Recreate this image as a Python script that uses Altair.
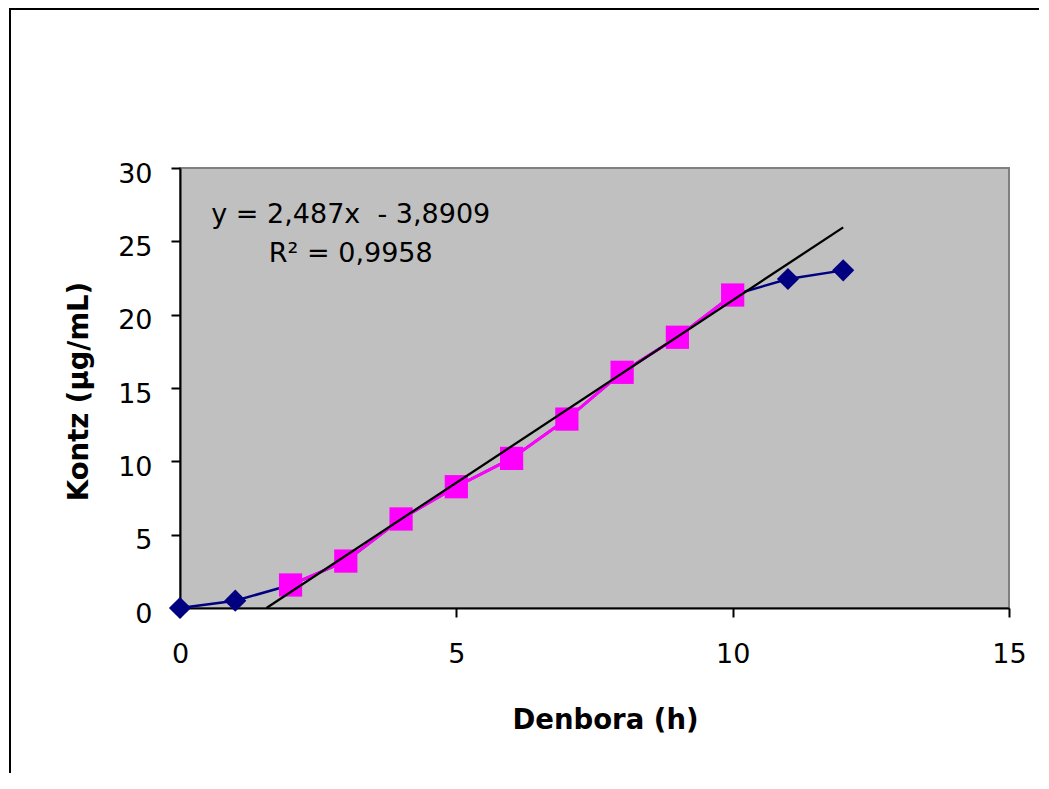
import altair as alt
import pandas as pd

# ---- data ----
hours = [0, 1, 2, 3, 4, 5, 6, 7, 8, 9, 10, 11, 12]
conc = [0, 0.5, 1.57, 3.2, 6.07, 8.27, 10.2, 12.88, 16.07, 18.46, 21.34, 22.43, 23.02]
linear_hours = [2, 3, 4, 5, 6, 7, 8, 9, 10]
slope = 2.487
intercept = -3.8909
eq_lines = ["y = 2,487x\u00a0 - 3,8909", "R² = 0,9958"]
eq_pos_h = [3.09, 3.09]
eq_pos_c = [26.25, 23.6]
x_ticks = [0, 5, 10, 15]
y_ticks = [0, 5, 10, 15, 20, 25, 30]

W, H = 829, 440
FONT = "DejaVu Sans"

all_df = pd.DataFrame({"h": hours, "c": conc})
lin_df = all_df[all_df["h"].isin(linear_hours)]
x_start = -intercept / slope
x_end = max(hours)
trend_df = pd.DataFrame({"h": [x_start, x_end],
                         "c": [slope * x_start + intercept, slope * x_end + intercept]})
label_df = pd.DataFrame({"h": eq_pos_h, "c": eq_pos_c, "t": eq_lines})
frame_df = pd.DataFrame({"k": [0]})

xs = alt.Scale(domain=[0, 15], nice=False, zero=False)
ys = alt.Scale(domain=[0, 30], nice=False)

x_axis = alt.Axis(values=x_ticks, title="Denbora (h)", labelPadding=24, labelFlush=False,
                  titleX=425, titleY=120, titleBaseline="alphabetic", titleAlign="center")
y_axis = alt.Axis(values=y_ticks, title="Kontz (µg/mL)", labelPadding=19, labelOffset=6,
                  labelFlush=False,
                  titleX=-93, titleY=223, titleAngle=270, titleBaseline="alphabetic",
                  titleAlign="center")

X = alt.X("h:Q", scale=xs, axis=x_axis)
Y = alt.Y("c:Q", scale=ys, axis=y_axis)

frame = alt.Chart(frame_df).mark_rect(fillOpacity=0, stroke="black", strokeWidth=2).encode(
    x=alt.value(-170), x2=alt.value(890), y=alt.value(-159), y2=alt.value(650)
)

blue_line = alt.Chart(all_df).mark_line(color="#000080", strokeWidth=2.5).encode(x=X, y=Y)
blue_pts = alt.Chart(all_df).mark_point(shape="diamond", filled=True, color="#000080",
                                        size=490, opacity=1).encode(x=X, y=Y)
mag_line = alt.Chart(lin_df).mark_line(color="#FF00FF", strokeWidth=3).encode(x=X, y=Y)
mag_pts = alt.Chart(lin_df).mark_point(shape="square", filled=True, color="#FF00FF",
                                       size=540, opacity=1).encode(x=X, y=Y)
trend = alt.Chart(trend_df).mark_line(color="black", strokeWidth=2.3).encode(x=X, y=Y)
labels = alt.Chart(label_df).mark_text(font=FONT, fontSize=27, color="black",
                                       align="center", baseline="alphabetic").encode(
    x=X, y=Y, text="t:N"
)

chart = alt.layer(frame, blue_line, blue_pts, mag_line, mag_pts, trend, labels).properties(
    width=W, height=H,
    autosize=alt.AutoSizeParams(type="none"),
    padding={"left": 172, "top": 160, "right": 30, "bottom": 165},
    background="white",
).configure_view(
    fill="#C0C0C0", stroke="#808080", strokeWidth=2
).configure_axis(
    grid=False, domainColor="black", domainWidth=2, tickColor="black", tickWidth=2,
    tickSize=9, labelFont=FONT, labelFontSize=27, labelColor="black",
    titleFont=FONT, titleFontSize=27.5, titleFontWeight="bold", titleColor="black"
)

chart.save("out.html", embed_options={"renderer": "svg", "actions": False})
